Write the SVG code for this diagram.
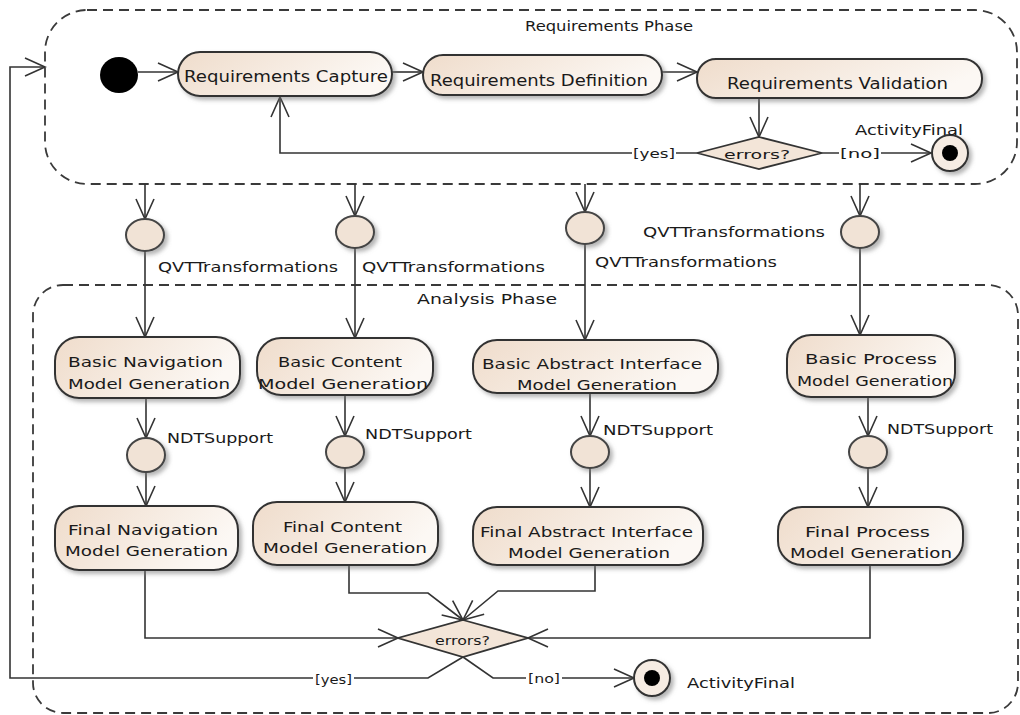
<svg xmlns="http://www.w3.org/2000/svg" width="1020" height="715" viewBox="0 0 1020 715">
<defs>
<linearGradient id="g" x1="0" y1="0" x2="1" y2="0.3">
<stop offset="0" stop-color="#efdccb"/>
<stop offset="1" stop-color="#fcf8f4"/>
</linearGradient>
<filter id="sh" x="-10%" y="-10%" width="130%" height="140%">
<feDropShadow dx="3" dy="3" stdDeviation="2" flood-color="#777" flood-opacity="0.55"/>
</filter>
<marker id="a" markerUnits="userSpaceOnUse" markerWidth="24" markerHeight="22" refX="20" refY="10" orient="auto" overflow="visible">
<path d="M0,1 L20,10 L0,19" fill="none" stroke="#333" stroke-width="1.6"/>
</marker>
</defs>
<style>
text{font-family:"DejaVu Sans","Liberation Sans",sans-serif;font-size:14px;fill:#1a1a1a}
.t15{font-size:15px}
.t13{font-size:13px}
.act{fill:url(#g);stroke:#333;stroke-width:2;filter:url(#sh)}
.obj{fill:#f1e3d6;stroke:#444;stroke-width:2;filter:url(#sh)}
.dec{fill:#f3e5d8;stroke:#333;stroke-width:1.8}
.part{fill:none;stroke:#3a3a3a;stroke-width:1.8;stroke-dasharray:10 6}
.ca{fill:none;stroke:#333;stroke-width:1.6;marker-end:url(#a)}
.bg{fill:#fff}
</style>
<rect width="1020" height="715" fill="#fff"/>

<g id="requirements-phase">
<rect class="part" x="45" y="10" width="972" height="174" rx="42" ry="42"/>
<text x="525" y="31" textLength="168" lengthAdjust="spacingAndGlyphs">Requirements Phase</text>
</g>
<g id="analysis-phase">
<rect class="part" x="33" y="285" width="985" height="428" rx="30" ry="30"/>
<text x="417" y="304" textLength="140" lengthAdjust="spacingAndGlyphs">Analysis Phase</text>
</g>

<g id="connectors">
<path class="ca" d="M138,72 L178,72"/>
<path class="ca" d="M392,72 L423,72"/>
<path class="ca" d="M662,72 L697,72"/>
<path class="ca" d="M759,98 L759,137"/>
<path class="ca" d="M697,153 L280,153 L280,97"/>
<path class="ca" d="M822,153 L931,153"/>
<path class="ca" d="M463,657 L428,678 L10,678 L10,67 L45,67"/>
<path class="ca" d="M463,657 L493,678 L634,678"/>
<path class="ca" d="M145,184 L145,219"/>
<path class="ca" d="M355,184 L355,216"/>
<path class="ca" d="M585,184 L585,212"/>
<path class="ca" d="M860,184 L860,216"/>
<path class="ca" d="M145,251 L145,337"/>
<path class="ca" d="M355,248 L355,338"/>
<path class="ca" d="M585,244 L585,340"/>
<path class="ca" d="M860,248 L860,335"/>
<path class="ca" d="M146,398 L146,438"/>
<path class="ca" d="M345,395 L345,436"/>
<path class="ca" d="M590,393 L590,436"/>
<path class="ca" d="M868,397 L868,436"/>
<path class="ca" d="M146,472 L146,506"/>
<path class="ca" d="M345,468 L345,502"/>
<path class="ca" d="M590,468 L590,507"/>
<path class="ca" d="M868,468 L868,507"/>
<path class="ca" d="M145,570 L145,638 L398,638"/>
<path class="ca" d="M349,565 L349,593 L428,593 L463,620"/>
<path class="ca" d="M595,565 L595,591 L498,591 L463,620"/>
<path class="ca" d="M870,565 L870,638 L528,638"/>
</g>

<g id="initial">
<ellipse cx="119" cy="75" rx="19" ry="18" fill="#000"/>
</g>
<g id="requirements-capture">
<rect class="act" x="178" y="52" width="214" height="44" rx="22"/>
<text class="t15" x="184" y="82" textLength="204" lengthAdjust="spacingAndGlyphs">Requirements Capture</text>
</g>
<g id="requirements-definition">
<rect class="act" x="423" y="55" width="239" height="40" rx="20"/>
<text class="t15" x="430" y="86" textLength="218" lengthAdjust="spacingAndGlyphs">Requirements Definition</text>
</g>
<g id="requirements-validation">
<rect class="act" x="697" y="59" width="285" height="39" rx="19"/>
<text class="t15" x="727" y="89" textLength="221" lengthAdjust="spacingAndGlyphs">Requirements Validation</text>
</g>
<g id="decision-1">
<path class="dec" d="M759,137 L822,153 L759,169 L697,153 Z"/>
<text class="t13" x="724" y="159" textLength="66" lengthAdjust="spacingAndGlyphs">errors?</text>
<rect class="bg" x="632" y="144" width="44" height="18"/>
<text class="t13" x="633" y="158" textLength="42" lengthAdjust="spacingAndGlyphs">[yes]</text>
<rect class="bg" x="839" y="144" width="42" height="18"/>
<text class="t13" x="840" y="158" textLength="40" lengthAdjust="spacingAndGlyphs">[no]</text>
</g>
<g id="final-1">
<circle cx="950" cy="153" r="18" fill="#f6ece3" stroke="#333" stroke-width="2" filter="url(#sh)"/>
<circle cx="950" cy="153" r="8" fill="#000"/>
<text x="855" y="135" textLength="108" lengthAdjust="spacingAndGlyphs">ActivityFinal</text>
</g>

<g id="qvt-1">
<ellipse class="obj" cx="145" cy="235" rx="19" ry="16"/>
<text x="158" y="272" textLength="180" lengthAdjust="spacingAndGlyphs">QVTTransformations</text>
</g>
<g id="qvt-2">
<ellipse class="obj" cx="355" cy="232" rx="19" ry="16"/>
<text x="362" y="272" textLength="183" lengthAdjust="spacingAndGlyphs">QVTTransformations</text>
</g>
<g id="qvt-3">
<ellipse class="obj" cx="585" cy="228" rx="19" ry="16"/>
<text x="595" y="267" textLength="182" lengthAdjust="spacingAndGlyphs">QVTTransformations</text>
</g>
<g id="qvt-4">
<ellipse class="obj" cx="860" cy="232" rx="19" ry="16"/>
<text x="643" y="237" textLength="182" lengthAdjust="spacingAndGlyphs">QVTTransformations</text>
</g>

<g id="basic-navigation">
<rect class="act" x="55" y="337" width="185" height="61" rx="24"/>
<text x="68" y="367" textLength="155" lengthAdjust="spacingAndGlyphs">Basic Navigation</text>
<text x="68" y="389" textLength="162" lengthAdjust="spacingAndGlyphs">Model Generation</text>
</g>
<g id="basic-content">
<rect class="act" x="257" y="338" width="176" height="57" rx="24"/>
<text x="278" y="367" textLength="124" lengthAdjust="spacingAndGlyphs">Basic Content</text>
<text x="258" y="389" textLength="170" lengthAdjust="spacingAndGlyphs">Model Generation</text>
</g>
<g id="basic-abstract-interface">
<rect class="act" x="473" y="340" width="245" height="53" rx="24"/>
<text x="482" y="369" textLength="220" lengthAdjust="spacingAndGlyphs">Basic Abstract Interface</text>
<text x="517" y="390" textLength="160" lengthAdjust="spacingAndGlyphs">Model Generation</text>
</g>
<g id="basic-process">
<rect class="act" x="787" y="335" width="168" height="62" rx="24"/>
<text x="805" y="364" textLength="132" lengthAdjust="spacingAndGlyphs">Basic Process</text>
<text x="797" y="386" textLength="156" lengthAdjust="spacingAndGlyphs">Model Generation</text>
</g>

<g id="ndt-1">
<ellipse class="obj" cx="146" cy="455" rx="19" ry="17"/>
<text x="167" y="443" textLength="106" lengthAdjust="spacingAndGlyphs">NDTSupport</text>
</g>
<g id="ndt-2">
<ellipse class="obj" cx="345" cy="452" rx="19" ry="16"/>
<text x="365" y="439" textLength="107" lengthAdjust="spacingAndGlyphs">NDTSupport</text>
</g>
<g id="ndt-3">
<ellipse class="obj" cx="590" cy="452" rx="19" ry="16"/>
<text x="603" y="435" textLength="110" lengthAdjust="spacingAndGlyphs">NDTSupport</text>
</g>
<g id="ndt-4">
<ellipse class="obj" cx="868" cy="452" rx="19" ry="16"/>
<text x="887" y="434" textLength="106" lengthAdjust="spacingAndGlyphs">NDTSupport</text>
</g>

<g id="final-navigation">
<rect class="act" x="55" y="506" width="183" height="64" rx="24"/>
<text x="68" y="535" textLength="150" lengthAdjust="spacingAndGlyphs">Final Navigation</text>
<text x="65" y="556" textLength="163" lengthAdjust="spacingAndGlyphs">Model Generation</text>
</g>
<g id="final-content">
<rect class="act" x="253" y="502" width="185" height="63" rx="24"/>
<text x="283" y="532" textLength="119" lengthAdjust="spacingAndGlyphs">Final Content</text>
<text x="263" y="553" textLength="164" lengthAdjust="spacingAndGlyphs">Model Generation</text>
</g>
<g id="final-abstract-interface">
<rect class="act" x="473" y="507" width="230" height="58" rx="24"/>
<text x="480" y="537" textLength="213" lengthAdjust="spacingAndGlyphs">Final Abstract Interface</text>
<text x="508" y="558" textLength="162" lengthAdjust="spacingAndGlyphs">Model Generation</text>
</g>
<g id="final-process">
<rect class="act" x="778" y="507" width="185" height="58" rx="24"/>
<text x="805" y="537" textLength="125" lengthAdjust="spacingAndGlyphs">Final Process</text>
<text x="790" y="558" textLength="162" lengthAdjust="spacingAndGlyphs">Model Generation</text>
</g>

<g id="decision-2">
<path class="dec" d="M463,620 L528,638 L463,657 L398,638 Z"/>
<text class="t13" x="435" y="645" textLength="55" lengthAdjust="spacingAndGlyphs">errors?</text>
<rect class="bg" x="313" y="670" width="41" height="18"/>
<text class="t13" x="315" y="684" textLength="37" lengthAdjust="spacingAndGlyphs">[yes]</text>
<rect class="bg" x="526" y="669" width="36" height="18"/>
<text class="t13" x="528" y="683" textLength="32" lengthAdjust="spacingAndGlyphs">[no]</text>
</g>
<g id="final-2">
<circle cx="652" cy="678" r="18" fill="#f6ece3" stroke="#333" stroke-width="2" filter="url(#sh)"/>
<circle cx="652" cy="678" r="8" fill="#000"/>
<text x="687" y="688" textLength="108" lengthAdjust="spacingAndGlyphs">ActivityFinal</text>
</g>
</svg>
